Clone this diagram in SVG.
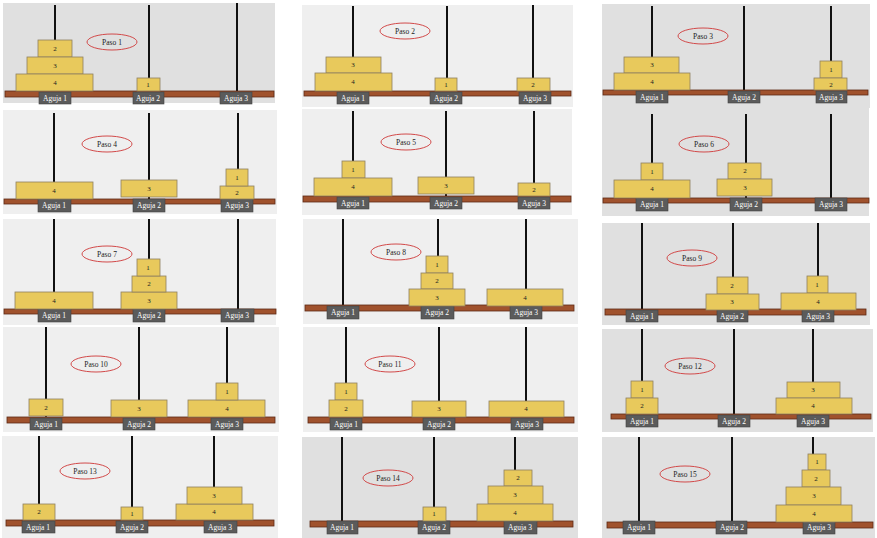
<svg xmlns="http://www.w3.org/2000/svg" width="877" height="538" viewBox="0 0 877 538">
<style>
.bgd{fill:#e0e0e0}
.bgl{fill:#efefef}
.rod{stroke:#111;stroke-width:2}
.board{fill:#a0522d;stroke:#5e2a14;stroke-width:0.8}
.lab{fill:#5b5b5b;stroke:#444;stroke-width:0.6}
.labt{font-family:"Liberation Serif",serif;font-size:7.5px;fill:#fff;text-anchor:middle}
.disk{fill:#e8c95c;stroke:#8f8060;stroke-width:0.8}
.dt{font-family:"Liberation Serif",serif;font-size:7px;fill:#222;text-anchor:middle}
.oval{fill:none;stroke:#d24a4a;stroke-width:1}
.ot{font-family:"Liberation Serif",serif;font-size:7.5px;fill:#222;text-anchor:middle}
</style>
<rect width="877" height="538" fill="#fff"/>

<g id="p1">
<rect class="bgd" x="3" y="3" width="272" height="100"/>
<line class="rod" x1="55" y1="5" x2="55" y2="91"/><line class="rod" x1="149" y1="5" x2="149" y2="91"/><line class="rod" x1="237" y1="3" x2="237" y2="91"/>
<rect class="board" x="5" y="91" width="269" height="6"/>
<rect class="lab" x="39" y="92" width="32" height="12"/><text class="labt" x="55" y="101">Aguja 1</text>
<rect class="lab" x="133" y="92" width="31" height="12"/><text class="labt" x="148" y="101">Aguja 2</text>
<rect class="lab" x="220" y="92" width="32" height="12"/><text class="labt" x="236" y="101">Aguja 3</text>
<rect class="disk" x="38" y="40" width="34" height="17"/><text class="dt" x="55" y="51">2</text>
<rect class="disk" x="27" y="57" width="56" height="17"/><text class="dt" x="55" y="68">3</text>
<rect class="disk" x="16" y="74" width="77" height="17"/><text class="dt" x="55" y="85">4</text>
<rect class="disk" x="137" y="78" width="23" height="13"/><text class="dt" x="148" y="87">1</text>
<ellipse class="oval" cx="112" cy="42" rx="25" ry="8"/><text class="ot" x="112" y="45">Paso 1</text>
</g>

<g id="p2">
<rect class="bgl" x="302" y="5" width="271" height="102"/>
<line class="rod" x1="353" y1="6" x2="353" y2="91"/><line class="rod" x1="447" y1="6" x2="447" y2="91"/><line class="rod" x1="533" y1="5" x2="533" y2="91"/>
<rect class="board" x="304" y="91" width="267" height="5"/>
<rect class="lab" x="337" y="92" width="32" height="12"/><text class="labt" x="353" y="101">Aguja 1</text>
<rect class="lab" x="430" y="92" width="32" height="12"/><text class="labt" x="446" y="101">Aguja 2</text>
<rect class="lab" x="519" y="92" width="32" height="12"/><text class="labt" x="535" y="101">Aguja 3</text>
<rect class="disk" x="326" y="57" width="55" height="16"/><text class="dt" x="353" y="67">3</text>
<rect class="disk" x="315" y="73" width="77" height="18"/><text class="dt" x="353" y="84">4</text>
<rect class="disk" x="435" y="78" width="22" height="13"/><text class="dt" x="446" y="87">1</text>
<rect class="disk" x="517" y="78" width="33" height="13"/><text class="dt" x="533" y="87">2</text>
<ellipse class="oval" cx="405" cy="31" rx="25" ry="8"/><text class="ot" x="405" y="34">Paso 2</text>
</g>

<g id="p3">
<rect class="bgd" x="602" y="4" width="268" height="104"/>
<line class="rod" x1="652" y1="6" x2="652" y2="90"/><line class="rod" x1="744" y1="6" x2="744" y2="90"/><line class="rod" x1="831" y1="6" x2="831" y2="90"/>
<rect class="board" x="603" y="90" width="265" height="5"/>
<rect class="lab" x="636" y="91" width="32" height="12"/><text class="labt" x="652" y="100">Aguja 1</text>
<rect class="lab" x="728" y="91" width="32" height="12"/><text class="labt" x="744" y="100">Aguja 2</text>
<rect class="lab" x="816" y="91" width="31" height="12"/><text class="labt" x="831" y="100">Aguja 3</text>
<rect class="disk" x="624" y="57" width="55" height="16"/><text class="dt" x="652" y="67">3</text>
<rect class="disk" x="614" y="73" width="76" height="17"/><text class="dt" x="652" y="84">4</text>
<rect class="disk" x="820" y="61" width="22" height="17"/><text class="dt" x="831" y="72">1</text>
<rect class="disk" x="814" y="78" width="33" height="12"/><text class="dt" x="831" y="87">2</text>
<ellipse class="oval" cx="703" cy="36" rx="25" ry="8"/><text class="ot" x="703" y="39">Paso 3</text>
</g>

<g id="p4">
<rect class="bgl" x="3" y="110" width="274" height="104"/>
<line class="rod" x1="54" y1="113" x2="54" y2="199"/><line class="rod" x1="149" y1="113" x2="149" y2="199"/><line class="rod" x1="238" y1="113" x2="238" y2="199"/>
<rect class="board" x="4" y="199" width="271" height="5"/>
<rect class="lab" x="38" y="199" width="33" height="13"/><text class="labt" x="54" y="208">Aguja 1</text>
<rect class="lab" x="133" y="199" width="32" height="13"/><text class="labt" x="149" y="208">Aguja 2</text>
<rect class="lab" x="221" y="199" width="32" height="13"/><text class="labt" x="237" y="208">Aguja 3</text>
<rect class="disk" x="16" y="182" width="77" height="17"/><text class="dt" x="54" y="193">4</text>
<rect class="disk" x="121" y="180" width="56" height="17"/><text class="dt" x="149" y="191">3</text>
<rect class="disk" x="220" y="186" width="34" height="13"/><text class="dt" x="237" y="195">2</text>
<rect class="disk" x="226" y="169" width="22" height="17"/><text class="dt" x="237" y="180">1</text>
<ellipse class="oval" cx="107" cy="144" rx="25" ry="8"/><text class="ot" x="107" y="147">Paso 4</text>
</g>

<g id="p5">
<rect class="bgl" x="302" y="109" width="270" height="106"/>
<line class="rod" x1="353" y1="111" x2="353" y2="196"/><line class="rod" x1="446" y1="111" x2="446" y2="196"/><line class="rod" x1="534" y1="111" x2="534" y2="196"/>
<rect class="board" x="303" y="196" width="268" height="6"/>
<rect class="lab" x="337" y="197" width="32" height="12"/><text class="labt" x="353" y="206">Aguja 1</text>
<rect class="lab" x="430" y="197" width="32" height="12"/><text class="labt" x="446" y="206">Aguja 2</text>
<rect class="lab" x="518" y="197" width="32" height="12"/><text class="labt" x="534" y="206">Aguja 3</text>
<rect class="disk" x="342" y="161" width="23" height="17"/><text class="dt" x="353" y="172">1</text>
<rect class="disk" x="314" y="178" width="78" height="18"/><text class="dt" x="353" y="189">4</text>
<rect class="disk" x="418" y="177" width="56" height="17"/><text class="dt" x="446" y="188">3</text>
<rect class="disk" x="518" y="183" width="32" height="13"/><text class="dt" x="534" y="192">2</text>
<ellipse class="oval" cx="406" cy="142" rx="25" ry="8"/><text class="ot" x="406" y="145">Paso 5</text>
</g>

<g id="p6">
<rect class="bgd" x="602" y="108" width="267" height="108"/>
<line class="rod" x1="652" y1="114" x2="652" y2="198"/><line class="rod" x1="746" y1="114" x2="746" y2="198"/><line class="rod" x1="831" y1="114" x2="831" y2="198"/>
<rect class="board" x="603" y="198" width="266" height="5"/>
<rect class="lab" x="636" y="198" width="32" height="13"/><text class="labt" x="652" y="207">Aguja 1</text>
<rect class="lab" x="730" y="198" width="32" height="13"/><text class="labt" x="746" y="207">Aguja 2</text>
<rect class="lab" x="815" y="198" width="32" height="13"/><text class="labt" x="831" y="207">Aguja 3</text>
<rect class="disk" x="641" y="163" width="22" height="17"/><text class="dt" x="652" y="174">1</text>
<rect class="disk" x="614" y="180" width="76" height="18"/><text class="dt" x="652" y="191">4</text>
<rect class="disk" x="728" y="163" width="33" height="16"/><text class="dt" x="745" y="173">2</text>
<rect class="disk" x="717" y="179" width="55" height="17"/><text class="dt" x="745" y="190">3</text>
<ellipse class="oval" cx="704" cy="144" rx="25" ry="8"/><text class="ot" x="704" y="147">Paso 6</text>
</g>

<g id="p7">
<rect class="bgl" x="3" y="219" width="273" height="106"/>
<line class="rod" x1="54" y1="219" x2="54" y2="309"/><line class="rod" x1="149" y1="219" x2="149" y2="309"/><line class="rod" x1="238" y1="219" x2="238" y2="309"/>
<rect class="board" x="4" y="309" width="272" height="5"/>
<rect class="lab" x="38" y="309" width="33" height="13"/><text class="labt" x="54" y="318">Aguja 1</text>
<rect class="lab" x="133" y="309" width="32" height="13"/><text class="labt" x="149" y="318">Aguja 2</text>
<rect class="lab" x="221" y="309" width="33" height="13"/><text class="labt" x="237" y="318">Aguja 3</text>
<rect class="disk" x="15" y="292" width="78" height="17"/><text class="dt" x="54" y="303">4</text>
<rect class="disk" x="121" y="292" width="56" height="17"/><text class="dt" x="149" y="303">3</text>
<rect class="disk" x="132" y="276" width="34" height="16"/><text class="dt" x="149" y="286">2</text>
<rect class="disk" x="137" y="259" width="23" height="17"/><text class="dt" x="148" y="270">1</text>
<ellipse class="oval" cx="107" cy="254" rx="25" ry="8"/><text class="ot" x="107" y="257">Paso 7</text>
</g>

<g id="p8">
<rect class="bgl" x="303" y="219" width="275" height="105"/>
<line class="rod" x1="343" y1="219" x2="343" y2="305"/><line class="rod" x1="438" y1="219" x2="438" y2="305"/><line class="rod" x1="526" y1="219" x2="526" y2="305"/>
<rect class="board" x="305" y="305" width="269" height="6"/>
<rect class="lab" x="327" y="306" width="32" height="13"/><text class="labt" x="343" y="315">Aguja 1</text>
<rect class="lab" x="421" y="306" width="33" height="13"/><text class="labt" x="437" y="315">Aguja 2</text>
<rect class="lab" x="510" y="306" width="32" height="13"/><text class="labt" x="526" y="315">Aguja 3</text>
<rect class="disk" x="426" y="256" width="22" height="17"/><text class="dt" x="437" y="267">1</text>
<rect class="disk" x="421" y="273" width="32" height="16"/><text class="dt" x="437" y="283">2</text>
<rect class="disk" x="409" y="289" width="56" height="17"/><text class="dt" x="437" y="300">3</text>
<rect class="disk" x="487" y="289" width="76" height="17"/><text class="dt" x="525" y="300">4</text>
<ellipse class="oval" cx="396" cy="252" rx="25" ry="8"/><text class="ot" x="396" y="255">Paso 8</text>
</g>

<g id="p9">
<rect class="bgd" x="602" y="223" width="268" height="102"/>
<line class="rod" x1="642" y1="223" x2="642" y2="309"/><line class="rod" x1="733" y1="223" x2="733" y2="309"/><line class="rod" x1="818" y1="223" x2="818" y2="309"/>
<rect class="board" x="605" y="309" width="261" height="6"/>
<rect class="lab" x="626" y="310" width="32" height="12"/><text class="labt" x="642" y="319">Aguja 1</text>
<rect class="lab" x="717" y="310" width="31" height="12"/><text class="labt" x="732" y="319">Aguja 2</text>
<rect class="lab" x="802" y="310" width="32" height="12"/><text class="labt" x="818" y="319">Aguja 3</text>
<rect class="disk" x="717" y="277" width="31" height="17"/><text class="dt" x="732" y="288">2</text>
<rect class="disk" x="706" y="294" width="53" height="16"/><text class="dt" x="732" y="304">3</text>
<rect class="disk" x="807" y="276" width="21" height="17"/><text class="dt" x="817" y="287">1</text>
<rect class="disk" x="781" y="293" width="75" height="17"/><text class="dt" x="818" y="304">4</text>
<ellipse class="oval" cx="692" cy="258" rx="25" ry="8"/><text class="ot" x="692" y="261">Paso 9</text>
</g>

<g id="p10">
<rect class="bgl" x="3" y="327" width="276" height="105"/>
<line class="rod" x1="46" y1="327" x2="46" y2="417"/><line class="rod" x1="139" y1="327" x2="139" y2="417"/><line class="rod" x1="227" y1="327" x2="227" y2="417"/>
<rect class="board" x="7" y="417" width="268" height="6"/>
<rect class="lab" x="30" y="418" width="32" height="12"/><text class="labt" x="46" y="427">Aguja 1</text>
<rect class="lab" x="123" y="418" width="32" height="12"/><text class="labt" x="139" y="427">Aguja 2</text>
<rect class="lab" x="211" y="418" width="32" height="12"/><text class="labt" x="227" y="427">Aguja 3</text>
<rect class="disk" x="29" y="399" width="34" height="17"/><text class="dt" x="46" y="410">2</text>
<rect class="disk" x="111" y="400" width="56" height="17"/><text class="dt" x="139" y="411">3</text>
<rect class="disk" x="188" y="400" width="77" height="17"/><text class="dt" x="227" y="411">4</text>
<rect class="disk" x="216" y="383" width="22" height="17"/><text class="dt" x="227" y="394">1</text>
<ellipse class="oval" cx="96" cy="364" rx="25" ry="8"/><text class="ot" x="96" y="367">Paso 10</text>
</g>

<g id="p11">
<rect class="bgl" x="303" y="327" width="275" height="105"/>
<line class="rod" x1="346" y1="327" x2="346" y2="417"/><line class="rod" x1="439" y1="327" x2="439" y2="417"/><line class="rod" x1="526" y1="327" x2="526" y2="417"/>
<rect class="board" x="308" y="417" width="266" height="6"/>
<rect class="lab" x="330" y="418" width="32" height="12"/><text class="labt" x="346" y="427">Aguja 1</text>
<rect class="lab" x="423" y="418" width="32" height="12"/><text class="labt" x="439" y="427">Aguja 2</text>
<rect class="lab" x="511" y="418" width="32" height="12"/><text class="labt" x="527" y="427">Aguja 3</text>
<rect class="disk" x="335" y="383" width="22" height="17"/><text class="dt" x="346" y="394">1</text>
<rect class="disk" x="329" y="400" width="34" height="17"/><text class="dt" x="346" y="411">2</text>
<rect class="disk" x="412" y="401" width="54" height="16"/><text class="dt" x="439" y="411">3</text>
<rect class="disk" x="489" y="401" width="75" height="16"/><text class="dt" x="526" y="411">4</text>
<ellipse class="oval" cx="390" cy="364" rx="25" ry="8"/><text class="ot" x="390" y="367">Paso 11</text>
</g>

<g id="p12">
<rect class="bgd" x="602" y="329" width="271" height="103"/>
<line class="rod" x1="642" y1="329" x2="642" y2="414"/><line class="rod" x1="734" y1="329" x2="734" y2="414"/><line class="rod" x1="813" y1="329" x2="813" y2="414"/>
<rect class="board" x="611" y="414" width="260" height="5"/>
<rect class="lab" x="626" y="415" width="32" height="12"/><text class="labt" x="642" y="424">Aguja 1</text>
<rect class="lab" x="718" y="415" width="32" height="12"/><text class="labt" x="734" y="424">Aguja 2</text>
<rect class="lab" x="797" y="415" width="32" height="12"/><text class="labt" x="813" y="424">Aguja 3</text>
<rect class="disk" x="631" y="381" width="22" height="17"/><text class="dt" x="642" y="392">1</text>
<rect class="disk" x="626" y="398" width="32" height="16"/><text class="dt" x="642" y="408">2</text>
<rect class="disk" x="787" y="382" width="53" height="16"/><text class="dt" x="813" y="392">3</text>
<rect class="disk" x="776" y="398" width="76" height="16"/><text class="dt" x="813" y="408">4</text>
<ellipse class="oval" cx="690" cy="366" rx="25" ry="8"/><text class="ot" x="690" y="369">Paso 12</text>
</g>

<g id="p13">
<rect class="bgl" x="2" y="436" width="276" height="102"/>
<line class="rod" x1="39" y1="436" x2="39" y2="504"/><line class="rod" x1="132" y1="436" x2="132" y2="520"/><line class="rod" x1="214" y1="436" x2="214" y2="520"/>
<rect class="board" x="6" y="520" width="268" height="6"/>
<rect class="lab" x="22" y="521" width="33" height="12"/><text class="labt" x="38" y="530">Aguja 1</text>
<rect class="lab" x="116" y="521" width="32" height="12"/><text class="labt" x="132" y="530">Aguja 2</text>
<rect class="lab" x="204" y="521" width="33" height="12"/><text class="labt" x="220" y="530">Aguja 3</text>
<rect class="disk" x="23" y="504" width="32" height="16"/><text class="dt" x="39" y="514">2</text>
<rect class="disk" x="121" y="507" width="22" height="13"/><text class="dt" x="132" y="516">1</text>
<rect class="disk" x="176" y="504" width="77" height="16"/><text class="dt" x="214" y="514">4</text>
<rect class="disk" x="187" y="487" width="55" height="17"/><text class="dt" x="214" y="498">3</text>
<ellipse class="oval" cx="85" cy="471" rx="25" ry="8"/><text class="ot" x="85" y="474">Paso 13</text>
</g>

<g id="p14">
<rect class="bgd" x="302" y="437" width="276" height="101"/>
<line class="rod" x1="342" y1="437" x2="342" y2="521"/><line class="rod" x1="434" y1="437" x2="434" y2="521"/><line class="rod" x1="515" y1="437" x2="515" y2="521"/>
<rect class="board" x="310" y="521" width="263" height="6"/>
<rect class="lab" x="327" y="521" width="31" height="13"/><text class="labt" x="342" y="530">Aguja 1</text>
<rect class="lab" x="418" y="521" width="32" height="13"/><text class="labt" x="434" y="530">Aguja 2</text>
<rect class="lab" x="504" y="521" width="33" height="13"/><text class="labt" x="520" y="530">Aguja 3</text>
<rect class="disk" x="423" y="507" width="23" height="14"/><text class="dt" x="434" y="516">1</text>
<rect class="disk" x="504" y="470" width="28" height="16"/><text class="dt" x="518" y="480">2</text>
<rect class="disk" x="488" y="486" width="55" height="18"/><text class="dt" x="515" y="497">3</text>
<rect class="disk" x="477" y="504" width="76" height="17"/><text class="dt" x="515" y="515">4</text>
<ellipse class="oval" cx="388" cy="478" rx="25" ry="8"/><text class="ot" x="388" y="481">Paso 14</text>
</g>

<g id="p15">
<rect class="bgd" x="602" y="437" width="273" height="101"/>
<line class="rod" x1="639" y1="437" x2="639" y2="522"/><line class="rod" x1="732" y1="437" x2="732" y2="522"/><line class="rod" x1="813" y1="437" x2="813" y2="522"/>
<rect class="board" x="607" y="522" width="266" height="6"/>
<rect class="lab" x="623" y="521" width="32" height="13"/><text class="labt" x="639" y="530">Aguja 1</text>
<rect class="lab" x="716" y="521" width="31" height="13"/><text class="labt" x="732" y="530">Aguja 2</text>
<rect class="lab" x="803" y="521" width="32" height="13"/><text class="labt" x="819" y="530">Aguja 3</text>
<rect class="disk" x="808" y="454" width="18" height="16"/><text class="dt" x="817" y="464">1</text>
<rect class="disk" x="802" y="470" width="28" height="17"/><text class="dt" x="816" y="481">2</text>
<rect class="disk" x="786" y="487" width="55" height="18"/><text class="dt" x="814" y="498">3</text>
<rect class="disk" x="776" y="505" width="76" height="17"/><text class="dt" x="814" y="516">4</text>
<ellipse class="oval" cx="685" cy="474" rx="25" ry="8"/><text class="ot" x="685" y="477">Paso 15</text>
</g>
</svg>
